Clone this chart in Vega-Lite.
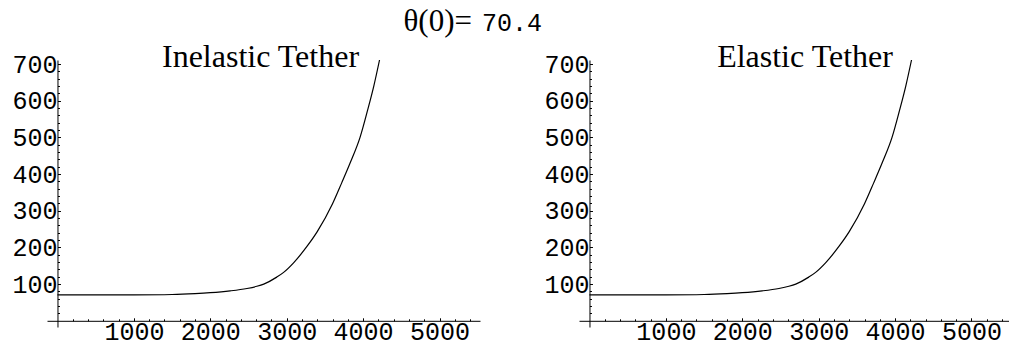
{
  "$schema": "https://vega.github.io/schema/vega-lite/v6.json",
  "padding": {"left": 11, "top": 5, "right": 0, "bottom": 0},
  "background": "white",
  "config": {
    "view": {"stroke": null},
    "axis": {
      "domainColor": "black", "tickColor": "black", "labelColor": "black",
      "labelFont": "Liberation Mono", "labelFontSize": 25, "grid": false, "format": "d",
      "domainWidth": 1, "tickWidth": 1, "labelFlush": false, "labelOverlap": false
    }
  },
  "datasets": {
    "curve": [
      {"x": 0, "y": 70.4}, {"x": 500, "y": 70.4}, {"x": 1000, "y": 70.6},
      {"x": 1500, "y": 71.6}, {"x": 1800, "y": 74}, {"x": 2000, "y": 76.5},
      {"x": 2260, "y": 81.5}, {"x": 2480, "y": 88}, {"x": 2610, "y": 94},
      {"x": 2700, "y": 100}, {"x": 2870, "y": 119}, {"x": 2960, "y": 132},
      {"x": 3090, "y": 158}, {"x": 3270, "y": 204}, {"x": 3400, "y": 243},
      {"x": 3600, "y": 319}, {"x": 3720, "y": 376}, {"x": 3830, "y": 430},
      {"x": 3960, "y": 500}, {"x": 4060, "y": 575}, {"x": 4140, "y": 640},
      {"x": 4215, "y": 711}
    ],
    "head1": [{"t": "θ(0)="}],
    "head2": [{"t": "70.4"}]
  },
  "vconcat": [
    {
      "width": 858, "height": 36,
      "layer": [
        {"data": {"name": "head1"},
         "mark": {"type": "text", "align": "right", "baseline": "alphabetic", "dx": -4, "dy": 8,
                  "font": "Liberation Serif", "fontSize": 31, "color": "black"},
         "encoding": {"text": {"field": "t", "type": "nominal"}}},
        {"data": {"name": "head2"},
         "mark": {"type": "text", "align": "left", "baseline": "alphabetic", "dx": 6, "dy": 8,
                  "font": "Liberation Mono", "fontSize": 25, "color": "black"},
         "encoding": {"text": {"field": "t", "type": "nominal"}}}
      ]
    },
    {
      "spacing": 63,
      "hconcat": [
        {
          "width": 433, "height": 267,
          "data": {"name": "curve"},
          "title": {"text": "Inelastic Tether", "font": "Liberation Serif", "fontSize": 32,
                    "fontWeight": "normal", "color": "black", "frame": "group",
                    "anchor": "middle", "baseline": "alphabetic", "offset": -47, "dx": -3},
          "layer": [
            {"mark": {"type": "line", "color": "black", "strokeWidth": 1.2, "interpolate": "monotone"},
             "encoding": {
               "x": {"field": "x", "type": "quantitative",
                     "scale": {"domain": [-137, 5530], "nice": false, "zero": false},
                     "axis": {"orient": "bottom", "title": null, "values": [1000, 2000, 3000, 4000, 5000],
                              "offset": -6.2, "tickSize": -3, "labelPadding": 2}},
               "y": {"field": "y", "type": "quantitative",
                     "scale": {"domain": [-17, 711], "nice": false, "zero": false},
                     "axis": {"orient": "left", "title": null, "values": [100, 200, 300, 400, 500, 600, 700],
                              "offset": -10.47, "tickSize": -3, "labelPadding": 3.5}}
             }},
            {"mark": {"type": "line", "opacity": 0},
             "encoding": {
               "x": {"field": "x", "type": "quantitative",
                     "axis": {"orient": "bottom", "title": null, "labels": false, "domain": false,
                              "values": [200, 400, 600, 800, 1200, 1400, 1600, 1800, 2200, 2400, 2600, 2800, 3200, 3400, 3600, 3800, 4200, 4400, 4600, 4800, 5200, 5400],
                              "offset": -6.2, "tickSize": -2}},
               "y": {"field": "y", "type": "quantitative",
                     "axis": {"orient": "left", "title": null, "labels": false, "domain": false,
                              "values": [20, 40, 60, 80, 120, 140, 160, 180, 220, 240, 260, 280, 320, 340, 360, 380, 420, 440, 460, 480, 520, 540, 560, 580, 620, 640, 660, 680],
                              "offset": -10.47, "tickSize": -2}}
             }}
          ],
          "resolve": {"axis": {"x": "independent", "y": "independent"}}
        },
        {
          "width": 430, "height": 267,
          "data": {"name": "curve"},
          "title": {"text": "Elastic Tether", "font": "Liberation Serif", "fontSize": 32,
                    "fontWeight": "normal", "color": "black", "frame": "group",
                    "anchor": "middle", "baseline": "alphabetic", "offset": -47, "dx": 11},
          "layer": [
            {"mark": {"type": "line", "color": "black", "strokeWidth": 1.2, "interpolate": "monotone"},
             "encoding": {
               "x": {"field": "x", "type": "quantitative",
                     "scale": {"domain": [-137, 5491], "nice": false, "zero": false},
                     "axis": {"orient": "bottom", "title": null, "values": [1000, 2000, 3000, 4000, 5000],
                              "offset": -6.2, "tickSize": -3, "labelPadding": 2}},
               "y": {"field": "y", "type": "quantitative",
                     "scale": {"domain": [-17, 711], "nice": false, "zero": false},
                     "axis": {"orient": "left", "title": null, "values": [100, 200, 300, 400, 500, 600, 700],
                              "offset": -10.47, "tickSize": -3, "labelPadding": 3.5}}
             }},
            {"mark": {"type": "line", "opacity": 0},
             "encoding": {
               "x": {"field": "x", "type": "quantitative",
                     "axis": {"orient": "bottom", "title": null, "labels": false, "domain": false,
                              "values": [200, 400, 600, 800, 1200, 1400, 1600, 1800, 2200, 2400, 2600, 2800, 3200, 3400, 3600, 3800, 4200, 4400, 4600, 4800, 5200, 5400],
                              "offset": -6.2, "tickSize": -2}},
               "y": {"field": "y", "type": "quantitative",
                     "axis": {"orient": "left", "title": null, "labels": false, "domain": false,
                              "values": [20, 40, 60, 80, 120, 140, 160, 180, 220, 240, 260, 280, 320, 340, 360, 380, 420, 440, 460, 480, 520, 540, 560, 580, 620, 640, 660, 680],
                              "offset": -10.47, "tickSize": -2}}
             }}
          ],
          "resolve": {"axis": {"x": "independent", "y": "independent"}}
        }
      ]
    }
  ],
  "spacing": 0
}
